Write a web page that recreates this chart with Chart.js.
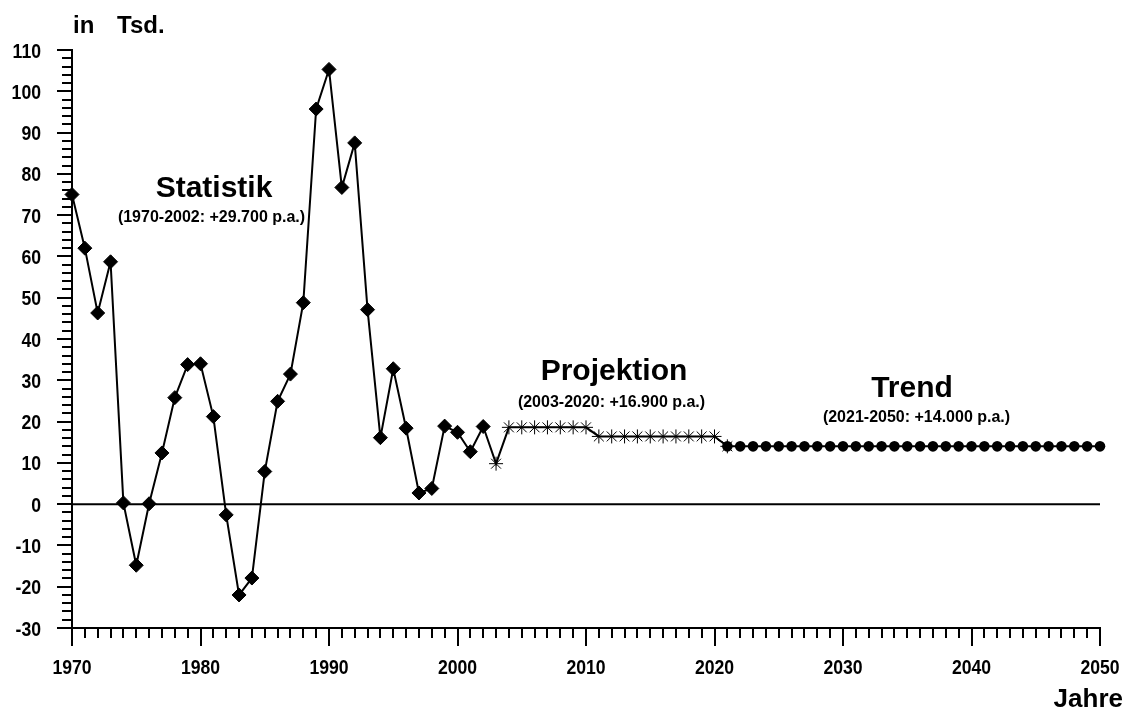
<!DOCTYPE html>
<html>
<head>
<meta charset="utf-8">
<script src="https://cdn.jsdelivr.net/npm/chart.js@4/dist/chart.umd.min.js"></script>
<style>
  body { margin: 0; background: #fff; }
  canvas { display: block; }
</style>
</head>
<body>
<canvas id="myChart" width="1132" height="711"></canvas>
<script>
// Wanderungssaldo in Tsd. – Statistik, Projektion, Trend
const startStatistik = 1970;
const statistik = [75, 62, 46.3, 58.7, 0.3, -14.8, 0.1, 12.4, 25.8, 33.8, 34, 21.2, -2.6, -22, -17.9,
  7.9, 24.9, 31.5, 48.8, 95.7, 105.3, 76.7, 87.5, 47.1, 16.1, 32.8, 18.4, 2.7, 3.8, 18.9, 17.4, 12.7, 18.8];

const startProjektion = 2003;
const projektion = [9.8, 18.6, 18.6, 18.6, 18.6, 18.6, 18.6, 18.6,
  16.4, 16.4, 16.4, 16.4, 16.4, 16.4, 16.4, 16.4, 16.4, 16.4, 14];

const startTrend = 2021;
const trend = [14, 14, 14, 14, 14, 14, 14, 14, 14, 14, 14, 14, 14, 14, 14,
  14, 14, 14, 14, 14, 14, 14, 14, 14, 14, 14, 14, 14, 14, 14];

const xTicks = [1970, 1980, 1990, 2000, 2010, 2020, 2030, 2040, 2050];
const yTicks = [-30, -20, -10, 0, 10, 20, 30, 40, 50, 60, 70, 80, 90, 100, 110];

const FONT = '"Liberation Sans", Arial, Helvetica, sans-serif';

function toPoints(start, values) {
  return values.map((v, i) => ({ x: start + i, y: v }));
}
const ptsStatistik = toPoints(startStatistik, statistik);
const ptsProjektion = toPoints(startProjektion, projektion);
const ptsTrend = toPoints(startTrend, trend);
const ptsVerlauf = ptsStatistik.concat(ptsProjektion, ptsTrend.slice(1));

// schmale Achsenbeschriftung (wie Arial Narrow), horizontal gestaucht
function narrowText(ctx, s, x, y, align) {
  ctx.save();
  ctx.font = 'bold 21px ' + FONT;
  ctx.textBaseline = 'alphabetic';
  ctx.textAlign = align;
  ctx.translate(x, y);
  ctx.scale(0.84, 1);
  ctx.fillText(s, 0, 0);
  ctx.restore();
}

const extras = {
  id: 'extras',
  beforeDatasetsDraw(chart) {
    const ctx = chart.ctx;
    const xs = chart.scales.x, ys = chart.scales.y;
    const area = chart.chartArea;
    ctx.save();
    ctx.strokeStyle = '#000';
    ctx.lineWidth = 2;
    // Nulllinie
    const y0 = ys.getPixelForValue(0);
    ctx.beginPath();
    ctx.moveTo(area.left, y0);
    ctx.lineTo(area.right, y0);
    ctx.stroke();
    // kleine Striche
    ctx.beginPath();
    for (let v = -30; v <= 110; v += 2) {
      if (v % 10 === 0) continue;
      const py = Math.round(ys.getPixelForValue(v));
      ctx.moveTo(area.left - 10, py);
      ctx.lineTo(area.left, py);
    }
    for (let j = 1970; j <= 2050; j++) {
      if (j % 10 === 0) continue;
      const px = Math.round(xs.getPixelForValue(j));
      ctx.moveTo(px, area.bottom);
      ctx.lineTo(px, area.bottom + 10);
    }
    ctx.stroke();
    // Achsenbeschriftung
    ctx.fillStyle = '#000';
    xTicks.forEach(v => narrowText(ctx, String(v), xs.getPixelForValue(v), area.bottom + 46, 'center'));
    yTicks.forEach(v => narrowText(ctx, String(v), area.left - 31, ys.getPixelForValue(v) + 7.5, 'right'));
    ctx.restore();
  },
  afterDraw(chart) {
    const ctx = chart.ctx;
    ctx.save();
    ctx.fillStyle = '#000';
    ctx.textBaseline = 'alphabetic';
    const txt = (s, x, y, size, align) => {
      ctx.font = 'bold ' + size + 'px ' + FONT;
      ctx.textAlign = align || 'center';
      ctx.fillText(s, x, y);
    };
    txt('in', 73, 33, 24, 'left');
    txt('Tsd.', 117, 33, 24, 'left');
    txt('Statistik', 214, 197, 30);
    txt('(1970-2002: +29.700 p.a.)', 211.5, 222, 16);
    txt('Projektion', 614, 380, 30);
    txt('(2003-2020: +16.900 p.a.)', 611.5, 407, 16);
    txt('Trend', 912, 397, 30);
    txt('(2021-2050: +14.000 p.a.)', 916.5, 422, 16);
    txt('Jahre', 1123, 707, 26, 'right');
    ctx.restore();
  }
};

const ctx = document.getElementById('myChart').getContext('2d');
new Chart(ctx, {
  type: 'line',
  data: {
    datasets: [
      {
        label: 'Verlauf',
        data: ptsVerlauf,
        borderColor: '#000',
        borderWidth: 2,
        pointRadius: 0,
        tension: 0,
        clip: false,
        order: 10
      },
      {
        label: 'Statistik',
        data: ptsStatistik,
        showLine: false,
        pointStyle: 'rectRot',
        pointRadius: 7,
        backgroundColor: '#000',
        borderColor: '#000',
        borderWidth: 1,
        clip: false,
        order: 1
      },
      {
        label: 'Projektion',
        data: ptsProjektion,
        showLine: false,
        pointStyle: 'star',
        pointRadius: 7,
        backgroundColor: '#000',
        borderColor: '#000',
        borderWidth: 1,
        clip: false,
        order: 2
      },
      {
        label: 'Trend',
        data: ptsTrend,
        showLine: false,
        pointStyle: 'circle',
        pointRadius: 5.3,
        backgroundColor: '#000',
        borderColor: '#000',
        borderWidth: 0,
        clip: false,
        order: 1
      }
    ]
  },
  options: {
    responsive: false,
    animation: false,
    layout: { padding: { top: 50, right: 32, left: 0, bottom: 0 } },
    plugins: {
      legend: { display: false },
      title: { display: false },
      tooltip: { enabled: false }
    },
    scales: {
      x: {
        type: 'linear',
        min: 1970,
        max: 2050,
        afterFit(scale) { scale.height = 83; },
        afterBuildTicks(scale) { scale.ticks = xTicks.map(v => ({ value: v })); },
        grid: { drawOnChartArea: false, drawTicks: true, tickLength: 18, color: '#000', lineWidth: 2 },
        border: { display: true, color: '#000', width: 2 },
        ticks: { display: false }
      },
      y: {
        min: -30,
        max: 110,
        afterFit(scale) { scale.width = 72; },
        afterBuildTicks(scale) { scale.ticks = yTicks.map(v => ({ value: v })); },
        grid: { drawOnChartArea: false, drawTicks: true, tickLength: 15, color: '#000', lineWidth: 2 },
        border: { display: true, color: '#000', width: 2 },
        ticks: { display: false }
      }
    }
  },
  plugins: [extras]
});
</script>
</body>
</html>
